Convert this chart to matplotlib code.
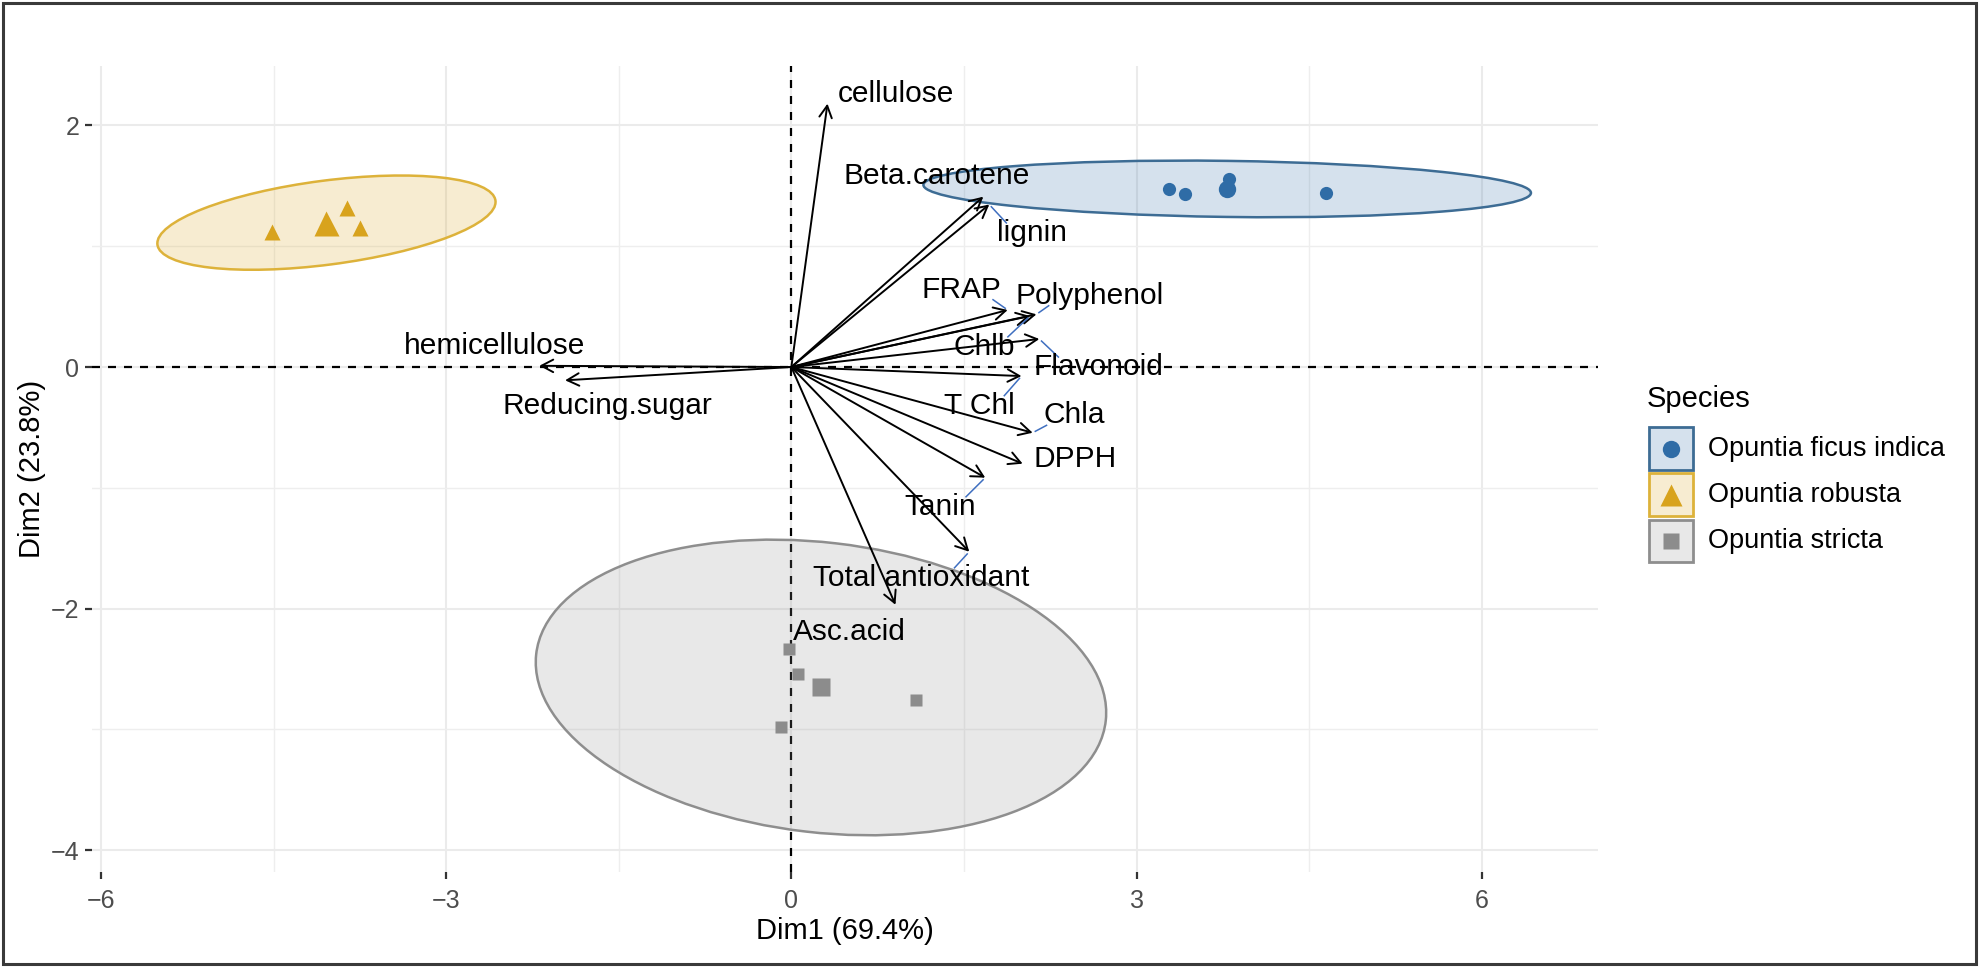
import matplotlib
matplotlib.use("Agg")
import matplotlib.pyplot as plt
from matplotlib.patches import Ellipse, FancyArrowPatch, Rectangle
from matplotlib.lines import Line2D
import numpy as np

plt.rcParams['font.family'] = ['Liberation Sans', 'DejaVu Sans']

# ---------------- data ----------------
species = ["Opuntia ficus indica", "Opuntia robusta", "Opuntia stricta"]

ficus_dim1 = [3.28, 3.42, 3.805, 4.645]
ficus_dim2 = [1.47, 1.435, 1.554, 1.438]
robusta_dim1 = [-4.51, -3.86, -3.75]
robusta_dim2 = [1.115, 1.32, 1.15]
stricta_dim1 = [-0.02, 0.06, 1.08, -0.09]
stricta_dim2 = [-2.33, -2.54, -2.76, -2.98]

# confidence ellipses (semi-axes in data units, rotation in degrees)
ellipse_a = [2.64, 1.48, 2.49]
ellipse_b = [0.232, 0.348, 1.20]
ellipse_angle = [-0.72, 7.04, -6.27]

var_names = ["cellulose", "Beta.carotene", "lignin", "FRAP", "Polyphenol", "Chlb",
             "Flavonoid", "T Chl", "Chla", "DPPH", "Tanin", "Total antioxidant",
             "Asc.acid", "hemicellulose", "Reducing.sugar"]
var_dim1 = [0.314, 1.668, 1.72, 1.88, 2.13, 2.074, 2.155, 2.00, 2.097, 2.01,
            1.685, 1.546, 0.905, -2.19, -1.966]
var_dim2 = [2.18, 1.41, 1.345, 0.472, 0.436, 0.422, 0.232, -0.075, -0.544, -0.80,
            -0.916, -1.529, -1.968, 0.01, -0.11]
label_dim1 = [0.91, 1.263, 2.09, 1.475, 2.59, 1.68, 2.67, 1.63, 2.46, 2.47,
              1.29, 1.13, 0.507, -2.58, -1.60]
label_dim2 = [2.26, 1.583, 1.11, 0.64, 0.59, 0.167, 0.0, -0.32, -0.40, -0.76,
              -1.157, -1.745, -2.19, 0.17, -0.326]
label_segment = [False, False, True, True, True, True, True, True, True, False,
                 True, True, False, False, False]

x_ticks = [-6, -3, 0, 3, 6]
y_ticks = [-4, -2, 0, 2]
x_label = "Dim1 (69.4%)"
y_label = "Dim2 (23.8%)"
legend_title = "Species"

# ---------------- style ----------------
point_colors = ["#2F6CA6", "#D8A31D", "#8C8C8C"]
edge_colors = ["#3D6C94", "#DDB23A", "#8E8E8E"]
markers = ['o', '^', 's']
small_ms = [9.5, 11.0, 8.5]
big_ms = [12.5, 18.0, 13.0]

W, H = 1979, 967
fig = plt.figure(figsize=(W / 100, H / 100), dpi=100)
fig.patch.set_facecolor('white')

left_px, right_px, top_px, bottom_px = 91.7, 1598.0, 66.2, 872.0
ax = fig.add_axes([left_px / W, 1 - bottom_px / H,
                   (right_px - left_px) / W, (bottom_px - top_px) / H])
ax.set_xlim(-6.08, 7.01)
ax.set_ylim(-4.18, 2.49)
for s in ax.spines.values():
    s.set_visible(False)

ax.set_xticks(x_ticks)
ax.set_yticks(y_ticks)
ax.set_xticks([-4.5, -1.5, 1.5, 4.5], minor=True)
ax.set_yticks([-3, -1, 1], minor=True)
ax.grid(which='major', color='#EBEBEB', lw=1.5, zorder=0)
ax.grid(which='minor', color='#EEEEEE', lw=1.0, zorder=0)
ax.set_axisbelow(True)
ax.tick_params(which='major', length=5, width=1.6, color='#333333',
               labelsize=18, labelcolor='#4D4D4D')
ax.tick_params(axis='x', which='major', pad=7.5)
ax.tick_params(axis='y', which='major', pad=4)
ax.tick_params(which='minor', length=0)

# reference lines
ax.axhline(0, color='black', lw=1.6, dashes=(3.6, 3.6), zorder=1.5)
ax.axvline(0, color='black', lw=1.6, dashes=(3.6, 3.6), zorder=1.5)

groups_x = [ficus_dim1, robusta_dim1, stricta_dim1]
groups_y = [ficus_dim2, robusta_dim2, stricta_dim2]
for i in range(3):
    gx = np.array(groups_x[i]); gy = np.array(groups_y[i])
    cx, cy = gx.mean(), gy.mean()
    ax.plot(gx, gy, ls='none', marker=markers[i], ms=small_ms[i],
            color=point_colors[i], mec='none', zorder=3)
    ax.plot([cx], [cy], ls='none', marker=markers[i], ms=big_ms[i],
            color=point_colors[i], mec='none', zorder=3)
    e = Ellipse((cx, cy), 2 * ellipse_a[i], 2 * ellipse_b[i], angle=ellipse_angle[i],
                facecolor=point_colors[i], alpha=0.2, edgecolor='none', zorder=2)
    ax.add_patch(e)
    e2 = Ellipse((cx, cy), 2 * ellipse_a[i], 2 * ellipse_b[i], angle=ellipse_angle[i],
                 facecolor='none', edgecolor=edge_colors[i], lw=1.8, zorder=2.1)
    ax.add_patch(e2)

# variable arrows
for vx, vy in zip(var_dim1, var_dim2):
    arr = FancyArrowPatch((0, 0), (vx, vy),
                          arrowstyle='->,head_length=0.85,head_width=0.45',
                          mutation_scale=10, shrinkA=0, shrinkB=0,
                          color='black', lw=1.4, zorder=4)
    ax.add_patch(arr)

texts = []
for name, lx, ly in zip(var_names, label_dim1, label_dim2):
    t = ax.text(lx, ly, name, ha='center', va='center', fontsize=21.5,
                color='black', zorder=5)
    texts.append(t)

# repel-style connector segments from label box towards the arrow tip
fig.canvas.draw()
renderer = fig.canvas.get_renderer()
inv = ax.transData.inverted()
for t, vx, vy, seg in zip(texts, var_dim1, var_dim2, label_segment):
    if not seg:
        continue
    bb = t.get_window_extent(renderer)
    cxp, cyp = (bb.x0 + bb.x1) / 2, (bb.y0 + bb.y1) / 2
    hw, hh = bb.width / 2 + 1, bb.height / 2 - 4
    tx, ty = ax.transData.transform((vx, vy))
    dx, dy = tx - cxp, ty - cyp
    tt = min(hw / abs(dx) if dx != 0 else 1e9, hh / abs(dy) if dy != 0 else 1e9)
    ix, iy = cxp + dx * tt, cyp + dy * tt
    nx = min(max(tx, cxp - hw), cxp + hw)
    ny = min(max(ty, cyp - hh), cyp + hh)
    sx, sy = (ix + nx) / 2, (iy + ny) / 2
    L = np.hypot(tx - sx, ty - sy)
    if L < 4:
        continue
    ex, ey = tx - (tx - sx) / L * 3, ty - (ty - sy) / L * 3
    p0 = inv.transform((sx, sy)); p1 = inv.transform((ex, ey))
    ax.plot([p0[0], p1[0]], [p0[1], p1[1]], color='#3F6FC0', lw=1.1, zorder=4.5)

# axis titles
fig.text((left_px + right_px) / 2 / W, 1 - 931 / H, x_label, ha='center', va='center',
         fontsize=21, color='black')
fig.text(32 / W, 1 - (top_px + bottom_px) / 2 / H, y_label, ha='center', va='center',
         rotation=90, fontsize=21, color='black')

# legend (manual, in figure pixels)
def fx(x):
    return x / W

def fy(y):
    return 1 - y / H

fig.text(fx(1647), fy(399), legend_title, ha='left', va='center', fontsize=21)
key_cy = [448.5, 494.5, 540.5]
leg_ms = [12.5, 16.5, 12.0]
for i in range(3):
    kx0, kw, kh = 1649, 44, 42
    bg = Rectangle((fx(kx0), fy(key_cy[i] + kh / 2)), kw / W, kh / H,
                   transform=fig.transFigure, facecolor=point_colors[i], alpha=0.2,
                   edgecolor='none')
    fig.add_artist(bg)
    br = Rectangle((fx(kx0), fy(key_cy[i] + kh / 2)), kw / W, kh / H,
                   transform=fig.transFigure, facecolor='none',
                   edgecolor=edge_colors[i], lw=2.0)
    fig.add_artist(br)
    fig.add_artist(Line2D([fx(kx0 + kw / 2)], [fy(key_cy[i])], transform=fig.transFigure,
                          marker=markers[i], ms=leg_ms[i], color=point_colors[i],
                          mec='none', ls='none'))
    fig.text(fx(1708), fy(key_cy[i]), species[i], ha='left', va='center', fontsize=19.5)

# outer frame
fig.add_artist(Rectangle((0.0015, 0.003), 0.997, 0.994, transform=fig.transFigure,
                         facecolor='none', edgecolor='#3A3A3A', lw=2.2))

fig.savefig("out.png", dpi=100)
